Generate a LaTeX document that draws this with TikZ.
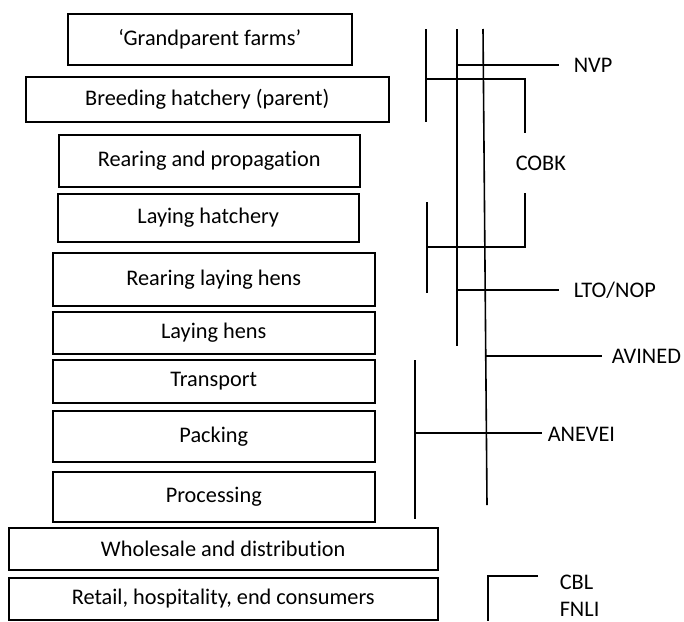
\documentclass[tikz,border=0pt]{standalone}
\usepackage{fontspec}
\setmainfont[Ligatures=NoCommon]{Carlito}
\begin{document}
\begin{tikzpicture}[x=1pt,y=-1pt,line width=1.5pt,
  stage/.style={draw,rectangle,inner sep=0pt,anchor=north west,
    font=\fontsize{22.3}{26}\selectfont},
  tag/.style={anchor=west,inner sep=0pt,font=\fontsize{22.3}{26}\selectfont},
  bar/.style={line width=1.6pt}]
\useasboundingbox (0,0) rectangle (684,621);

% chain stages
\node[stage,minimum width=284,minimum height=51] (gp)  at (67,13)  {‘Grandparent farms’};
\node[stage,minimum width=363,minimum height=45] (bh)  at (25,76)  {Breeding hatchery (parent)};
\node[stage,minimum width=301,minimum height=52] (rp)  at (58,134) {Rearing and propagation};
\node[stage,minimum width=301,minimum height=48] (lh)  at (57,193) {Laying hatchery};
\node[stage,minimum width=322,minimum height=53] (rlh) at (52,252) {Rearing laying hens};
\node[stage,minimum width=322,minimum height=42] (hen) at (52,311) {Laying hens};
\node[stage,minimum width=322,minimum height=43] (tr)  at (52,359) {Transport};
\node[stage,minimum width=322,minimum height=51] (pk)  at (52,410) {Packing};
\node[stage,minimum width=322,minimum height=50] (pr)  at (52,471) {Processing};
\node[stage,minimum width=429,minimum height=42] (ws)  at (8,527)  {Wholesale and distribution};
\node[stage,minimum width=429,minimum height=42] (rt)  at (8,577)  {Retail, hospitality, end consumers};

% organisation labels
\node[tag] (nvp)  at (573,65)  {NVP};
\node[tag] (cobk) at (515,163) {COBK};
\node[tag] (lto)  at (573,290) {LTO/NOP};
\node[tag] (avi)  at (611,356) {AVINED};
\node[tag] (ane)  at (547,434) {ANEVEI};
\node[tag] (cbl)  at (559,582) {CBL};
\node[tag] (fnli) at (559,609) {FNLI};

% bracket points
\coordinate (a1) at (426,29);  \coordinate (a2) at (426,122);
\coordinate (b1) at (457,29);  \coordinate (b2) at (457,346);
\coordinate (c1) at (483,29);  \coordinate (c2) at (487,505);
\coordinate (d1) at (427,202); \coordinate (d2) at (427,293);
\coordinate (e1) at (415,360); \coordinate (e2) at (415,519);
\coordinate (nvpE) at (559,65);
\coordinate (ltoE) at (559,290);
\coordinate (aviE) at (602,356);
\coordinate (aneE) at (542,433);
\coordinate (cbE)  at (538,576);
\coordinate (cbC)  at (488,576);
\coordinate (cbB)  at (488,621);

% verticals
\draw[bar] (a1) -- (a2);
\draw[bar] (b1) -- (b2);
\draw[bar] (c1) -- (c2);
\draw[bar] (d1) -- (d2);
\draw[bar] (e1) -- (e2);

% COBK brackets
\draw[bar] (426,79) -- (525,79) -- (525,133);
\draw[bar] (427,247) -- (525,247) -- (525,193);

% branches to labels
\draw[bar] (457,65) -- (nvpE);
\draw[bar] (457,290) -- (ltoE);
\draw[bar] (486.2,356) -- (aviE);
\draw[bar] (415,433) -- (aneE);
\draw[bar] (cbE) -- (cbC) -- (cbB);
\end{tikzpicture}
\end{document}
